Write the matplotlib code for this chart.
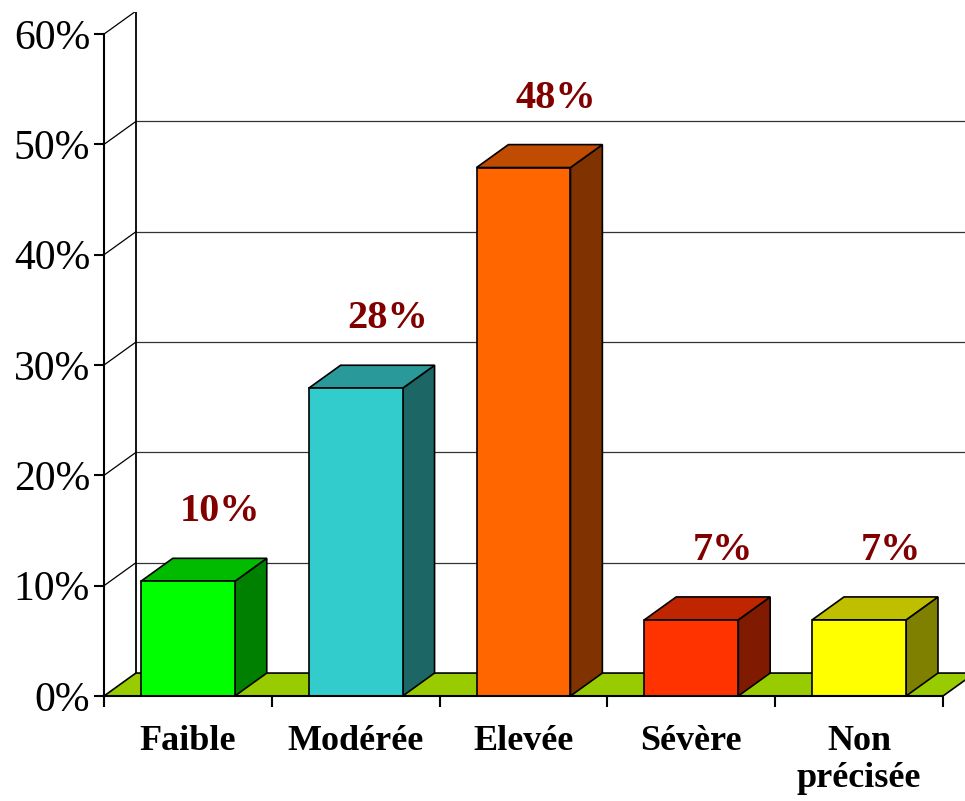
import numpy as np
import matplotlib.pyplot as plt
from matplotlib.patches import Polygon

# data
categories = ['Faible', 'Modérée', 'Elevée', 'Sévère', 'Non\nprécisée']
values = [10.4, 27.9, 47.9, 6.9, 6.9]
labels = ['10%', '28%', '48%', '7%', '7%']
front_colors = ['#00FF00', '#33CCCC', '#FF6600', '#FF3300', '#FFFF00']
top_colors = ['#00BB00', '#2A9999', '#BF4C00', '#BF2600', '#BFBF00']
side_colors = ['#008000', '#1D6666', '#803300', '#801A00', '#808000']
yticks = [0, 10, 20, 30, 40, 50, 60]

# oblique depth, in data units
dx = 0.19
dy = 2.08
bar_w = 0.56

plt.rcParams['font.family'] = ['Liberation Serif', 'DejaVu Serif']

fig = plt.figure(figsize=(9.65, 8.01), dpi=100)
ax = fig.add_axes([104 / 965, 105 / 801, 861 / 965, 684 / 801])
xmax = 4.5 + 22 / 167.8
ax.set_xlim(-0.5, xmax)
ax.set_ylim(0, 62.0)

# floor
floor = Polygon([(-0.5, 0), (4.5, 0), (4.5 + dx, dy), (-0.5 + dx, dy)],
                closed=True, facecolor='#99CC00', edgecolor='black', lw=1.2, zorder=2)
ax.add_patch(floor)

# back wall and side wall gridlines
for v in yticks[1:]:
    ax.plot([-0.5, -0.5 + dx], [v, v + dy], color='black', lw=0.9, zorder=1)
    ax.plot([-0.5 + dx, xmax], [v + dy, v + dy], color='#333333',
            lw=1.2 if v == 60 else 0.9, zorder=1)
ax.plot([-0.5 + dx, -0.5 + dx], [dy, 60 + dy], color='black', lw=1.3, zorder=1)

# bars
for i, v in enumerate(values):
    x0 = i - bar_w / 2
    x1 = i + bar_w / 2
    side = Polygon([(x1, 0), (x1 + dx, dy), (x1 + dx, v + dy), (x1, v)],
                   closed=True, facecolor=side_colors[i], edgecolor='black', lw=1.2, zorder=3)
    top = Polygon([(x0, v), (x1, v), (x1 + dx, v + dy), (x0 + dx, v + dy)],
                  closed=True, facecolor=top_colors[i], edgecolor='black', lw=1.2, zorder=3)
    front = Polygon([(x0, 0), (x1, 0), (x1, v), (x0, v)],
                    closed=True, facecolor=front_colors[i], edgecolor='black', lw=1.2, zorder=4)
    ax.add_patch(side)
    ax.add_patch(top)
    ax.add_patch(front)
    ax.text(i + dx, v + dy + 4.2, labels[i], ha='center', va='center',
            fontsize=29, fontweight='bold', color='#800000', zorder=5)

# axes
for s in ['top', 'right']:
    ax.spines[s].set_visible(False)
ax.spines['left'].set_bounds(0, 60)
ax.spines['bottom'].set_bounds(-0.5, 4.5)
ax.spines['left'].set_linewidth(1.5)
ax.spines['bottom'].set_linewidth(1.5)
ax.spines['left'].set_zorder(6)
ax.spines['bottom'].set_zorder(6)

ax.set_yticks(yticks)
ax.set_yticklabels([f'{t}%' for t in yticks], fontsize=30)
ax.tick_params(axis='y', direction='out', length=7, width=1.5, pad=3)

ax.set_xticks(range(len(categories)))
ax.set_xticklabels(categories, fontsize=26, fontweight='bold', va='top', linespacing=1.15)
ax.set_xticks(np.arange(-0.5, 5.0, 1.0), minor=True)
ax.tick_params(axis='x', which='major', length=0, pad=21)
ax.tick_params(axis='x', which='minor', direction='out', length=8, width=1.5)

fig.savefig('out.png', dpi=100)
